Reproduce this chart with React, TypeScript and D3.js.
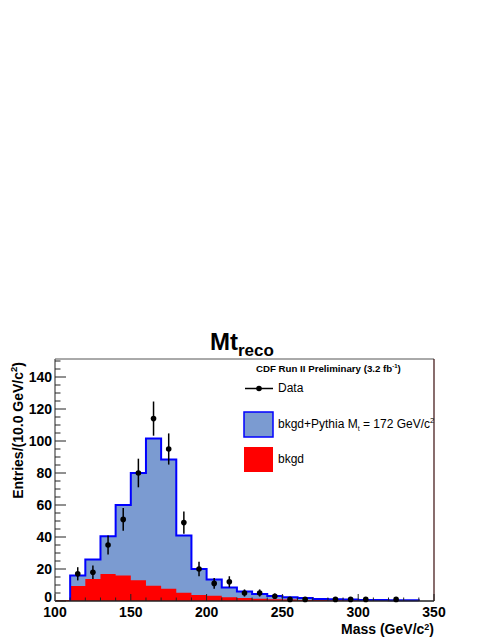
import { useEffect, useRef } from 'react';
import * as d3 from 'd3';

// bin low edges (GeV/c^2), width 10
const binEdges = [110, 120, 130, 140, 150, 160, 170, 180, 190, 200, 210, 220, 230, 240, 250, 260, 270, 280, 290, 300, 310, 320, 330];
// bkgd + Pythia (stacked total)
const totalValues = [16, 26, 40.5, 60, 80, 101.5, 88.5, 41, 20, 13.5, 8.5, 6, 4.4, 3.1, 2.3, 1.8, 1.3, 1.1, 0.9, 0.7, 0.6, 0.5, 0.4];
// bkgd only
const bkgdValues = [9.4, 13.8, 16.9, 16, 13, 9.6, 7.7, 5.2, 3.8, 3.3, 2.3, 1.8, 1.4, 1.1, 0.9, 0.7, 0.6, 0.5, 0.4, 0.3, 0.3, 0.2, 0.2];
// data points at bin centres
const dataMass = [115, 125, 135, 145, 155, 165, 175, 185, 195, 205, 215, 225, 235, 245, 255, 265, 285, 295, 305, 325];
const dataCounts = [17, 18, 35, 51, 80, 114, 95, 49, 20, 11, 12, 5, 5, 3, 1, 1, 1, 1, 1, 1];

const xTicks = [100, 150, 200, 250, 300, 350];
const yTicks = [0, 20, 40, 60, 80, 100, 120, 140];

const FONT = 'Liberation Sans, Arial, Helvetica, sans-serif';

const App = () => {
  const svgRef = useRef<SVGSVGElement>(null);

  useEffect(() => {
    const W = 494;
    const H = 639;
    const left = 55, right = 434, top = 359, bottom = 601;

    const svg = d3.select(svgRef.current);
    svg.selectAll('*').remove();
    svg.attr('width', W).attr('height', H);

    const x = d3.scaleLinear().domain([100, 350]).range([left, right]);
    const y = d3.scaleLinear().domain([0, 151.25]).range([bottom, top]);

    const stepPath = (vals: number[]) => {
      const p = d3.path();
      p.moveTo(x(binEdges[0]), y(0));
      vals.forEach((v, i) => {
        p.lineTo(x(binEdges[i]), y(v));
        p.lineTo(x(binEdges[i] + 10), y(v));
      });
      p.lineTo(x(binEdges[binEdges.length - 1] + 10), y(0));
      return p.toString();
    };

    // stacked total fill
    svg.append('path')
      .attr('d', stepPath(totalValues) + 'Z')
      .attr('fill', '#7b9bd1')
      .attr('stroke', 'none');

    // bkgd fill
    svg.append('path')
      .attr('d', stepPath(bkgdValues) + 'Z')
      .attr('fill', '#ff0000')
      .attr('stroke', 'none');

    svg.append('line')
      .attr('x1', x(100)).attr('x2', x(binEdges[0]))
      .attr('y1', y(0) - 0.5).attr('y2', y(0) - 0.5)
      .attr('stroke', '#ff0000').attr('stroke-width', 1);

    // total outline
    svg.append('path')
      .attr('d', stepPath(totalValues))
      .attr('fill', 'none')
      .attr('stroke', '#0000ff')
      .attr('stroke-width', 2);

    // frame
    svg.append('line').attr('x1', left).attr('x2', right).attr('y1', top).attr('y2', top)
      .attr('stroke', '#555').attr('stroke-width', 1);
    svg.append('line').attr('x1', right).attr('x2', right).attr('y1', top).attr('y2', bottom)
      .attr('stroke', '#3a0d0d').attr('stroke-width', 1.2);

    // x axis
    const xg = svg.append('g');
    xg.append('line').attr('x1', left).attr('x2', right).attr('y1', bottom).attr('y2', bottom)
      .attr('stroke', '#222').attr('stroke-width', 1.3);
    d3.range(100, 351, 10).forEach(t => {
      const major = t % 50 === 0;
      xg.append('line')
        .attr('x1', x(t)).attr('x2', x(t))
        .attr('y1', bottom).attr('y2', bottom - (major ? 7 : 3.5))
        .attr('stroke', '#222').attr('stroke-width', 1);
    });
    xTicks.forEach(t => {
      xg.append('text')
        .attr('x', x(t)).attr('y', 617)
        .attr('text-anchor', 'middle')
        .attr('font-family', FONT).attr('font-weight', 'bold').attr('font-size', 14)
        .attr('fill', '#000')
        .text(t);
    });

    // y axis
    const yg = svg.append('g');
    yg.append('line').attr('x1', left).attr('x2', left).attr('y1', top).attr('y2', bottom)
      .attr('stroke', '#555').attr('stroke-width', 1.3);
    d3.range(0, 151, 5).forEach(t => {
      const major = t % 20 === 0;
      yg.append('line')
        .attr('x1', left).attr('x2', left + (major ? 11 : 5.5))
        .attr('y1', y(t)).attr('y2', y(t))
        .attr('stroke', '#222').attr('stroke-width', 1);
    });
    yTicks.forEach(t => {
      yg.append('text')
        .attr('x', 52).attr('y', t === 0 ? y(t) + 1 : y(t) + 5)
        .attr('text-anchor', 'end')
        .attr('font-family', FONT).attr('font-weight', 'bold').attr('font-size', 14)
        .attr('fill', '#000')
        .text(t);
    });

    // data points
    dataMass.forEach((m, i) => {
      const n = dataCounts[i];
      const e = Math.sqrt(n);
      svg.append('line')
        .attr('x1', x(m)).attr('x2', x(m))
        .attr('y1', y(n - e)).attr('y2', y(Math.min(n + e, 151.25)))
        .attr('stroke', '#000').attr('stroke-width', 1.5);
      svg.append('circle')
        .attr('cx', x(m)).attr('cy', y(n)).attr('r', 2.8)
        .attr('fill', '#000');
    });

    // title
    const title = svg.append('text')
      .attr('x', 210).attr('y', 350)
      .attr('font-family', FONT).attr('font-weight', 'bold').attr('fill', '#000');
    title.append('tspan').attr('font-size', 24).text('Mt');
    title.append('tspan').attr('font-size', 17).attr('dy', 6).text('reco');

    // legend
    const lg = svg.append('g').attr('font-family', FONT).attr('fill', '#000');
    const head = lg.append('text').attr('x', 256).attr('y', 372)
      .attr('font-size', 9.7).attr('font-weight', 'bold');
    head.append('tspan').text('CDF Run II Preliminary (3.2 fb');
    head.append('tspan').attr('font-size', 6).attr('dy', -4).text('-1');
    head.append('tspan').attr('dy', 4).text(')');

    lg.append('line').attr('x1', 245).attr('x2', 273).attr('y1', 388.5).attr('y2', 388.5)
      .attr('stroke', '#000').attr('stroke-width', 1.5);
    lg.append('circle').attr('cx', 259).attr('cy', 388.5).attr('r', 2.8).attr('fill', '#000');
    lg.append('text').attr('x', 278).attr('y', 392).attr('font-size', 12).text('Data');

    lg.append('rect').attr('x', 244).attr('y', 412).attr('width', 29).attr('height', 25)
      .attr('fill', '#7b9bd1').attr('stroke', '#0000ff').attr('stroke-width', 1.5);
    const t2 = lg.append('text').attr('x', 278).attr('y', 428).attr('font-size', 12);
    t2.append('tspan').text('bkgd+Pythia M');
    t2.append('tspan').attr('font-size', 7).attr('dy', 3).text('t');
    t2.append('tspan').attr('dy', -3).text(' = 172 GeV/c');
    t2.append('tspan').attr('font-size', 7.5).attr('dy', -5).text('2');

    lg.append('rect').attr('x', 244).attr('y', 447).attr('width', 29).attr('height', 25)
      .attr('fill', '#ff0000');
    lg.append('text').attr('x', 278).attr('y', 463).attr('font-size', 12).text('bkgd');

    // axis titles
    const xt = svg.append('text')
      .attr('x', right).attr('y', 634)
      .attr('text-anchor', 'end')
      .attr('font-family', FONT).attr('font-weight', 'bold').attr('font-size', 14).attr('fill', '#000');
    xt.append('tspan').text('Mass (GeV/c');
    xt.append('tspan').attr('font-size', 9).attr('dy', -4.5).text('2');
    xt.append('tspan').attr('dy', 4.5).text(')');

    const yt = svg.append('text')
      .attr('transform', 'translate(23,362) rotate(-90)')
      .attr('text-anchor', 'end')
      .attr('font-family', FONT).attr('font-weight', 'bold').attr('font-size', 14).attr('fill', '#000');
    yt.append('tspan').text('Entries/(10.0 GeV/c');
    yt.append('tspan').attr('font-size', 9.5).attr('dy', -6).text('2');
    yt.append('tspan').attr('dy', 6).text(')');
  }, []);

  return <svg ref={svgRef} style={{ position: 'absolute', left: 0, top: 0, background: '#fff' }} />;
};

export default App;
